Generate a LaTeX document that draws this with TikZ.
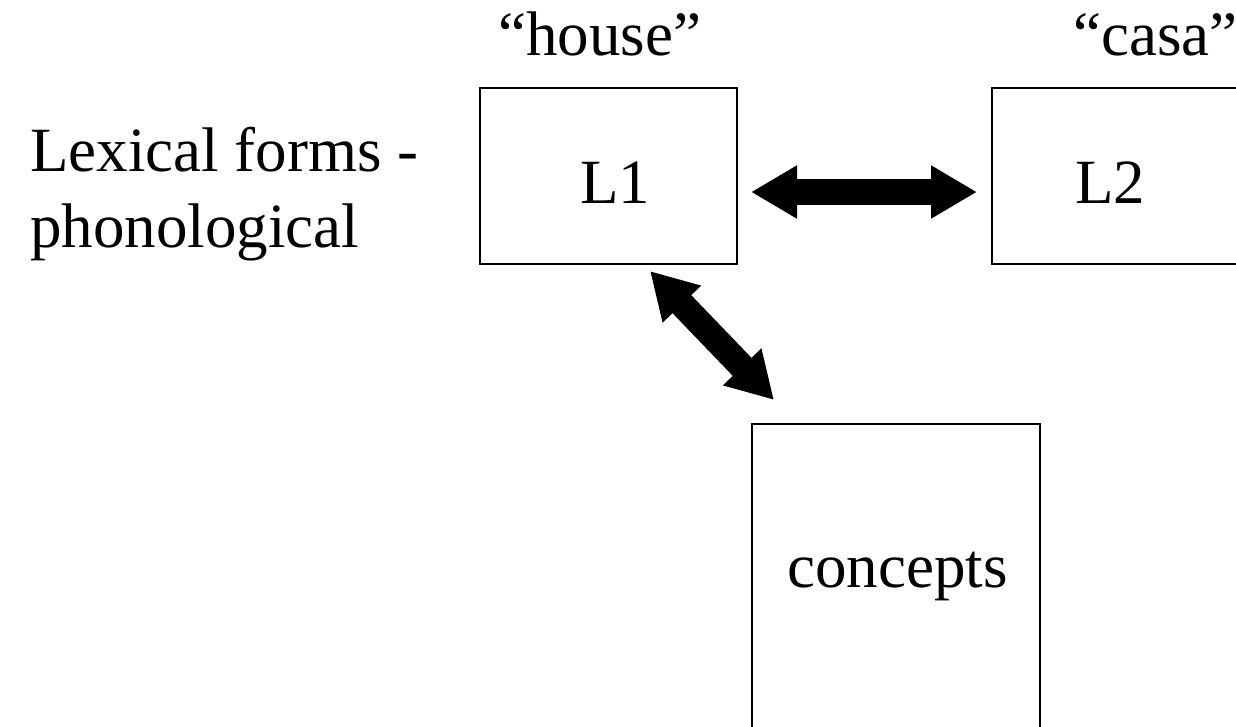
\documentclass[tikz,border=0pt]{standalone}
\usepackage{fontspec}
\setmainfont{Liberation Serif}
\usetikzlibrary{arrows.meta}
\begin{document}
\begin{tikzpicture}[x=1pt,y=-1pt,
  box/.style={draw, line width=2pt, inner sep=0pt, outer sep=0pt},
  lbl/.style={font=\fontsize{63}{76}\selectfont, inner sep=0pt, anchor=base west},
  bigarrow/.style={line width=26pt, {Triangle[width=50pt,length=46pt]}-{Triangle[width=50pt,length=46pt]}}]
\useasboundingbox (0,0) rectangle (1236,726);
\clip (0,0) rectangle (1236,726);
\node[box, minimum width=257pt, minimum height=176pt] (L1box) at (608.5,176) {};
\node[box, minimum width=257pt, minimum height=176pt] (L2box) at (1120.5,176) {};
\node[box, minimum width=288pt, minimum height=356pt] (Cbox) at (896,602) {};
\node[lbl] (house) at (498,55) {“house”};
\node[lbl] (casa) at (1073,55) {“casa”};
\node[lbl] (lex) at (30,171) {Lexical forms -};
\node[lbl] (phon) at (30,247) {phonological};
\node[lbl] (l1) at (580,203) {L1};
\node[lbl] (l2) at (1075,203) {L2};
\node[lbl] (conc) at (787,587) {concepts};
\coordinate (a1) at (751,192);
\coordinate (a2) at (977,192);
\coordinate (b1) at (650,271);
\coordinate (b2) at (774,400);
\draw[bigarrow] (a1) -- (a2);
\draw[bigarrow] (b1) -- (b2);
\end{tikzpicture}
\end{document}
